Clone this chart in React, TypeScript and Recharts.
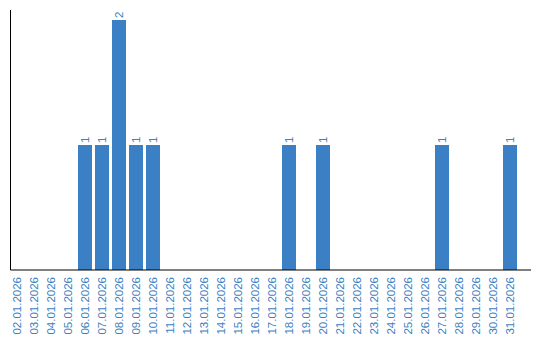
import { Bar, BarChart, LabelList, XAxis, YAxis } from 'recharts';

const dates = [
  '02.01.2026', '03.01.2026', '04.01.2026', '05.01.2026', '06.01.2026', '07.01.2026',
  '08.01.2026', '09.01.2026', '10.01.2026', '11.01.2026', '12.01.2026', '13.01.2026',
  '14.01.2026', '15.01.2026', '16.01.2026', '17.01.2026', '18.01.2026', '19.01.2026',
  '20.01.2026', '21.01.2026', '22.01.2026', '23.01.2026', '24.01.2026', '25.01.2026',
  '26.01.2026', '27.01.2026', '28.01.2026', '29.01.2026', '30.01.2026', '31.01.2026',
];

const counts = [0, 0, 0, 0, 1, 1, 2, 1, 1, 0, 0, 0, 0, 0, 0, 0, 1, 0, 1, 0, 0, 0, 0, 0, 0, 1, 0, 0, 0, 1];

const BLUE = '#3b7fc4';
const FONT = '"Liberation Sans", Arial, sans-serif';

const data = dates.map((date, i) => ({ date, count: counts[i] }));

function DateTick({ x, y, payload }: any) {
  return (
    <text
      transform={`translate(${x},${y - 1}) rotate(-90)`}
      textAnchor="end"
      dy="0.35em"
      fill={BLUE}
      fontSize={11.5}
      fontFamily={FONT}
    >
      {payload.value}
    </text>
  );
}

function ValueLabel({ x, y, width, value }: any) {
  if (!value) return null;
  return (
    <text
      transform={`translate(${x + width / 2},${y - 2}) rotate(-90)`}
      textAnchor="start"
      dy="0.35em"
      fill={BLUE}
      fontSize={11.5}
      fontFamily={FONT}
    >
      {value}
    </text>
  );
}

export default function App() {
  return (
    <BarChart
      width={532}
      height={332}
      data={data}
      margin={{ top: 2, right: 9, bottom: 0, left: 1.5 }}
    >
      <XAxis
        dataKey="date"
        interval={0}
        height={70}
        tickLine={false}
        axisLine={{ stroke: '#000' }}
        tick={<DateTick />}
        padding={{ left: -2.2, right: 12.7 }}
      />
      <YAxis
        width={1}
        tick={false}
        tickLine={false}
        axisLine={{ stroke: '#000' }}
        domain={[0, 2.08]}
      />
      <Bar dataKey="count" fill={BLUE} isAnimationActive={false}>
        <LabelList dataKey="count" content={<ValueLabel />} />
      </Bar>
    </BarChart>
  );
}
